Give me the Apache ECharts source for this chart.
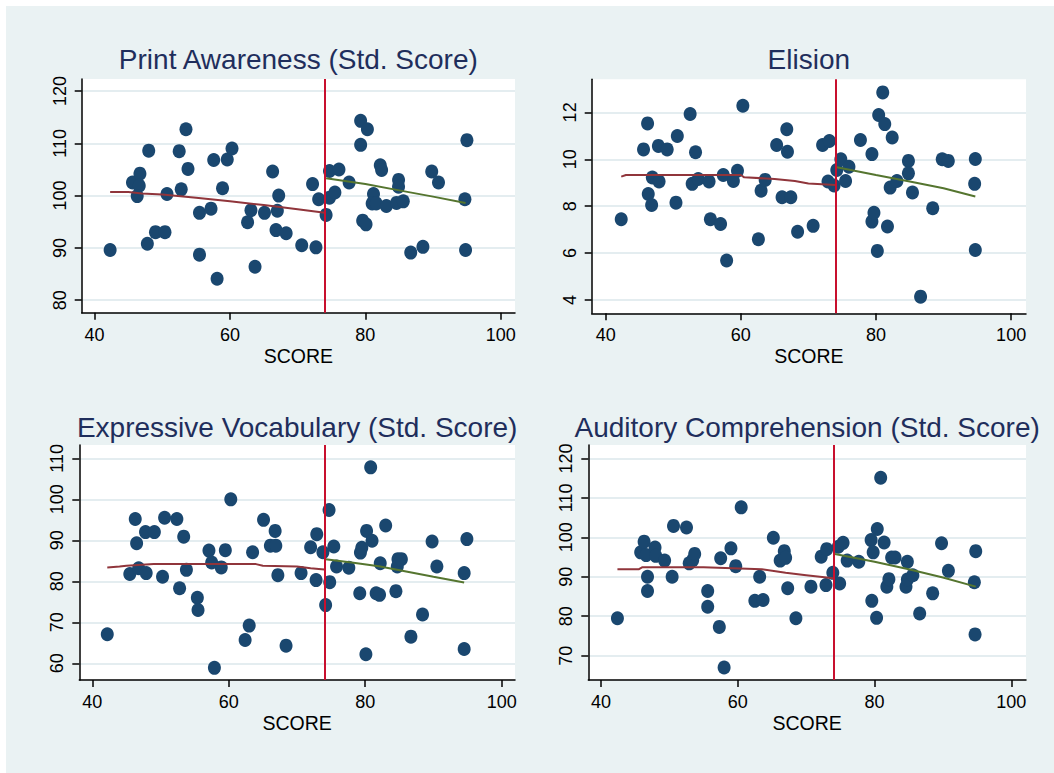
<!DOCTYPE html>
<html>
<head>
<meta charset="utf-8">
<script src="https://cdn.jsdelivr.net/npm/echarts@6/dist/echarts.min.js"></script>
<style>
html,body{margin:0;padding:0;background:#ffffff;}
#chart{width:1054px;height:773px;}
</style>
</head>
<body>
<div id="chart"></div>
<script>
// ---------- data ----------
const titles = ['Print Awareness (Std. Score)', 'Elision', 'Expressive Vocabulary (Std. Score)', 'Auditory Comprehension (Std. Score)'];
const xTicks = [40, 60, 80, 100];
const cutoff = 74;

const printTicks = [80, 90, 100, 110, 120];
const elisionTicks = [4, 6, 8, 10, 12];
const vocabTicks = [60, 70, 80, 90, 100, 110];
const auditoryTicks = [70, 80, 90, 100, 110, 120];

const printAwareness = [[42.3,89.6],[45.6,102.5],[46.7,104.2],[46.6,101.9],[46.3,99.9],[48.0,108.6],[47.8,90.8],[49.0,93.0],[50.4,93.0],[50.7,100.3],[52.5,108.5],[52.8,101.2],[53.5,112.7],[53.8,105.1],[55.5,96.7],[55.5,88.7],[57.2,97.5],[57.6,106.8],[58.1,84.1],[58.9,101.4],[59.6,106.9],[60.3,109.0],[62.6,94.9],[63.1,97.2],[63.7,86.4],[65.1,96.7],[66.3,104.6],[66.8,93.4],[67.0,97.1],[67.2,100.0],[68.3,92.8],[70.6,90.5],[72.2,102.2],[72.7,90.1],[73.1,99.3],[74.2,96.3],[74.7,104.7],[74.7,99.6],[75.5,100.6],[76.1,105.0],[77.6,102.5],[79.3,114.3],[79.3,109.7],[80.3,112.7],[79.6,95.2],[80.1,94.5],[81.2,100.3],[81.0,98.5],[81.6,98.5],[82.2,105.8],[82.4,104.9],[83.1,98.0],[84.9,103.0],[84.9,101.7],[84.6,98.6],[85.6,98.9],[86.7,89.1],[88.5,90.2],[89.8,104.6],[90.8,102.5],[95.0,110.6],[94.7,99.3],[94.8,89.6]];
const printFitLeft = [[42.3,100.7],[45,100.7],[47,100.4],[50,100.2],[55,99.6],[60,98.9],[65,98.2],[70,97.4],[74,96.7]];
const printFitRight = [[74.2,103.3],[80,102.2],[85,101.0],[90,99.8],[94.8,98.6]];

const elision = [[42.3,7.44],[45.6,10.42],[46.2,11.53],[46.3,8.52],[46.8,8.05],[46.9,9.22],[47.8,10.57],[47.9,9.05],[49.1,10.42],[50.4,8.15],[50.6,10.99],[52.5,11.93],[52.8,8.95],[53.3,10.30],[53.7,9.16],[55.3,9.05],[55.5,7.44],[57.0,7.24],[57.4,9.33],[57.9,5.68],[58.9,9.07],[59.5,9.51],[60.3,12.28],[62.6,6.59],[63.0,8.66],[63.6,9.12],[65.3,10.61],[66.1,8.38],[66.8,11.28],[66.9,10.32],[67.4,8.38],[68.4,6.91],[70.7,7.16],[72.1,10.61],[73.1,10.78],[72.9,9.05],[73.8,8.88],[74.2,9.54],[74.8,10.0],[75.5,9.07],[76.0,9.68],[77.7,10.82],[79.4,10.22],[79.4,7.34],[79.7,7.72],[80.2,6.09],[80.4,11.89],[81.0,12.85],[81.3,11.50],[81.7,7.13],[82.1,8.79],[82.4,10.93],[83.1,9.07],[84.8,9.93],[84.8,9.40],[85.4,8.58],[86.6,4.14],[88.4,7.91],[89.8,10.0],[90.7,9.93],[94.7,10.01],[94.6,8.95],[94.7,6.13]];
const elisionFitLeft = [[42.3,9.26],[43,9.33],[60,9.33],[60.5,9.23],[65,9.16],[68,9.07],[70,8.97],[74,8.90]];
const elisionFitRight = [[74.2,9.66],[80,9.33],[85,9.05],[90,8.76],[94.7,8.41]];

const vocabulary = [[42.2,67.1],[45.5,81.8],[46.3,95.2],[46.5,89.3],[46.8,83.2],[47.8,92.0],[47.9,82.0],[49.1,92.0],[50.3,81.1],[50.6,95.5],[52.4,95.2],[52.8,78.3],[53.4,90.9],[53.8,82.8],[55.4,76.0],[55.5,73.0],[57.1,87.5],[57.5,84.6],[57.9,58.9],[58.9,83.4],[59.5,87.6],[60.3,100.0],[62.4,65.7],[63.0,69.2],[63.5,87.1],[65.1,95.0],[66.1,88.7],[66.9,88.7],[66.8,92.3],[67.2,81.5],[68.4,64.3],[70.6,82.0],[72.0,88.3],[72.9,91.5],[72.8,80.3],[73.8,87.1],[74.2,74.2],[74.7,97.4],[74.8,79.8],[75.4,88.5],[75.8,83.6],[77.6,83.3],[79.2,77.1],[79.3,87.0],[79.5,88.2],[80.2,92.3],[80.1,62.2],[80.8,107.8],[81.0,89.9],[81.6,77.1],[82.1,76.7],[82.2,84.4],[83.0,93.6],[84.5,77.6],[84.7,83.6],[84.8,85.4],[85.3,85.4],[86.7,66.5],[88.4,71.9],[89.8,89.7],[90.5,83.6],[94.9,90.3],[94.5,82.0],[94.5,63.5]];
const vocabFitLeft = [[42.2,83.4],[44,83.6],[45,83.8],[49,84.2],[55,84.2],[64,84.2],[65,83.8],[70,83.6],[72,83.2],[74,82.9]];
const vocabFitRight = [[74.2,85.4],[78,84.6],[82,83.7],[86,82.4],[90,81.1],[94.5,79.7]];

const auditory = [[42.4,79.5],[45.8,96.2],[46.3,98.9],[46.6,95.5],[46.8,90.0],[46.8,86.4],[47.9,97.4],[48.0,95.3],[49.3,94.1],[50.4,90.0],[50.6,102.9],[52.5,102.5],[52.9,93.4],[53.4,94.2],[53.7,95.8],[55.6,86.4],[55.6,82.4],[57.3,77.3],[57.5,94.7],[58.0,67.0],[59.0,97.2],[59.7,92.7],[60.5,107.6],[62.5,83.9],[63.2,90.0],[63.7,84.1],[65.2,99.9],[66.2,94.1],[66.8,96.5],[67.0,94.8],[67.3,87.1],[68.5,79.5],[70.7,87.5],[72.2,95.1],[72.9,87.9],[73.0,97.0],[73.9,91.0],[74.7,97.6],[74.9,88.3],[75.4,98.6],[76.0,94.1],[77.7,93.8],[79.5,99.3],[79.6,83.9],[79.8,96.2],[80.3,79.6],[80.4,102.1],[80.9,115.1],[81.4,98.7],[81.8,87.5],[82.1,89.4],[82.5,94.9],[83.0,94.9],[84.6,87.5],[84.8,93.8],[84.8,89.3],[85.6,90.4],[86.6,80.7],[88.5,85.8],[89.8,98.5],[90.8,91.5],[94.8,96.5],[94.6,88.6],[94.7,75.4]];
const auditoryFitLeft = [[42.4,91.9],[45.5,91.9],[46,92.4],[55,92.4],[63.5,91.9],[67,91.0],[70,90.4],[72,90.0],[74,89.6]];
const auditoryFitRight = [[74.2,95.8],[80,93.8],[85,91.9],[90,89.8],[94.8,87.5]];

// ---------- layout ----------
const panels = [
  {pts: printAwareness, fl: printFitLeft, fr: printFitRight, yt: printTicks, ymin: 77.6, ymax: 122.3, xmin: 38.1, xmax: 102.1,
   grid: {left: 81.7, top: 79, width: 433.3, height: 233.7}, ty: 59.5},
  {pts: elision, fl: elisionFitLeft, fr: elisionFitRight, yt: elisionTicks, ymin: 3.43, ymax: 13.41, xmin: 37.93, xmax: 102.2,
   grid: {left: 591.7, top: 79.3, width: 434.3, height: 234}, ty: 59.5},
  {pts: vocabulary, fl: vocabFitLeft, fr: vocabFitRight, yt: vocabTicks, ymin: 55.93, ymax: 113.25, xmin: 38.1, xmax: 101.95,
   grid: {left: 79.3, top: 445, width: 435.7, height: 235}, ty: 427.5},
  {pts: auditory, fl: auditoryFitLeft, fr: auditoryFitRight, yt: auditoryTicks, ymin: 63.84, ymax: 123.4, xmin: 38.14, xmax: 102.15,
   grid: {left: 588.3, top: 445, width: 437.7, height: 235}, ty: 427.5}
];

const FONT = '"Liberation Sans", Arial, sans-serif';
const grids = [], xAxes = [], yAxes = [], series = [], graphics = [];

graphics.push({type: 'rect', z: -10, shape: {x: 6, y: 6, width: 1048, height: 767}, style: {fill: '#EAF2F3'}});

panels.forEach((p, i) => {
  grids.push(Object.assign({show: true, backgroundColor: '#ffffff', borderWidth: 0, containLabel: false}, p.grid));
  graphics.push({type: 'text', x: p.grid.left + p.grid.width / 2, y: p.ty,
    style: {text: titles[i], align: 'center', verticalAlign: 'middle', fill: '#1F2E5C', font: '28px ' + FONT}});
  xAxes.push({
    type: 'value', gridIndex: i, min: p.xmin, max: p.xmax,
    axisLine: {show: true, onZero: false, lineStyle: {color: '#000', width: 1.5}},
    axisTick: {show: true, length: 7, customValues: xTicks, lineStyle: {color: '#000', width: 1.5}},
    axisLabel: {customValues: xTicks, fontSize: 18, color: '#000', margin: 13, fontFamily: FONT},
    splitLine: {show: false},
    name: 'SCORE', nameLocation: 'middle', nameGap: 33,
    nameTextStyle: {fontSize: 19.5, color: '#000', fontFamily: FONT}
  });
  yAxes.push({
    type: 'value', gridIndex: i, min: p.ymin, max: p.ymax,
    axisLine: {show: true, onZero: false, lineStyle: {color: '#000', width: 1.5}},
    axisTick: {show: true, length: 7, customValues: p.yt, lineStyle: {color: '#000', width: 1.5}},
    axisLabel: {customValues: p.yt, rotate: 90, fontSize: 18, color: '#000', margin: 13, fontFamily: FONT},
    splitLine: {show: true, lineStyle: {color: '#E4EDF0', width: 1.8}}
  });
  series.push({
    type: 'scatter', xAxisIndex: i, yAxisIndex: i, data: p.pts, symbol: 'circle', symbolSize: [13, 14],
    itemStyle: {color: '#1A476F', opacity: 1}, z: 3,
    markLine: {silent: true, symbol: ['none', 'none'], label: {show: false},
      lineStyle: {color: '#C8102E', width: 2, type: 'solid'}, data: [{xAxis: cutoff}], animation: false}
  });
  series.push({type: 'line', xAxisIndex: i, yAxisIndex: i, data: p.fl, showSymbol: false, z: 4,
    lineStyle: {color: '#90353B', width: 2}, itemStyle: {color: '#90353B'}});
  series.push({type: 'line', xAxisIndex: i, yAxisIndex: i, data: p.fr, showSymbol: false, z: 4,
    lineStyle: {color: '#55752F', width: 2}, itemStyle: {color: '#55752F'}});
});

const chart = echarts.init(document.getElementById('chart'), null, {renderer: 'svg'});
chart.setOption({
  animation: false,
  backgroundColor: '#ffffff',
  grid: grids, xAxis: xAxes, yAxis: yAxes, series: series, graphic: graphics
});
</script>
</body>
</html>
